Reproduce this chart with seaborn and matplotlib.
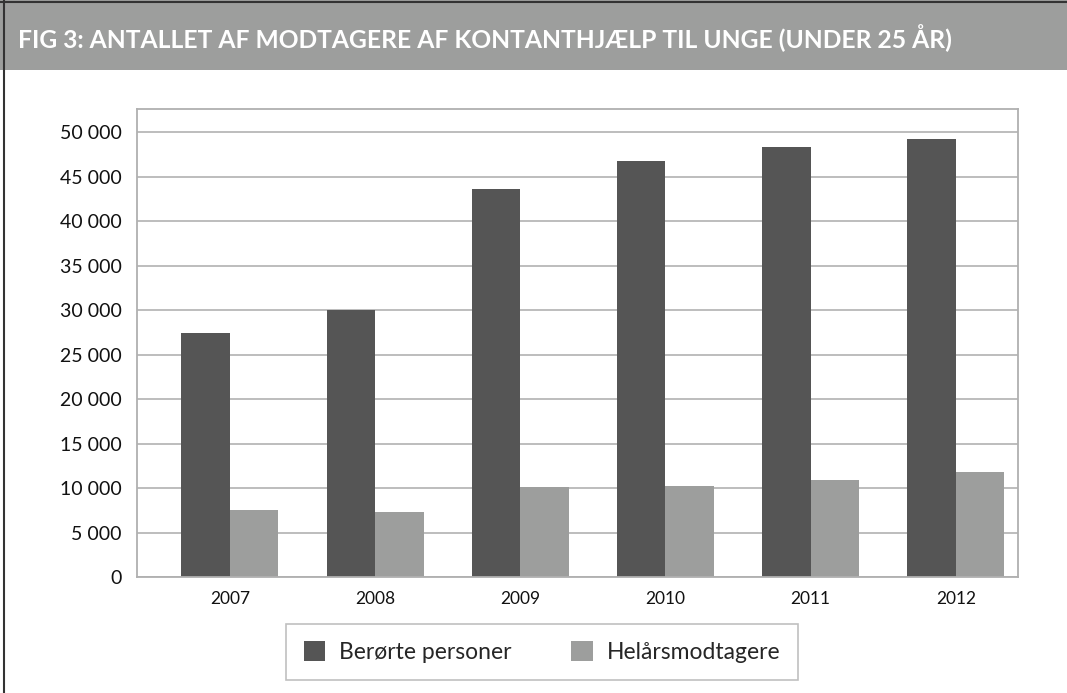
import matplotlib
matplotlib.use("Agg")
import matplotlib.pyplot as plt
import matplotlib.ticker as mticker
from matplotlib.patches import Rectangle
from matplotlib.lines import Line2D
import seaborn as sns
import pandas as pd

years = ["2007", "2008", "2009", "2010", "2011", "2012"]
berorte = [27450, 30000, 43600, 46750, 48300, 49200]
helaars = [7480, 7260, 10060, 10280, 10850, 11850]
series_names = ["Berørte personer", "Helårsmodtagere"]
title = "FIG 3: ANTALLET AF MODTAGERE AF KONTANTHJÆLP TIL UNGE (UNDER 25 ÅR)"

df = pd.DataFrame({
    "year": years * 2,
    "value": berorte + helaars,
    "serie": [series_names[0]] * len(years) + [series_names[1]] * len(years),
})

sns.set_theme(style="white")
plt.rcParams["font.family"] = ["Lato", "DejaVu Sans"]

W, H = 1067, 693
fig = plt.figure(figsize=(W / 100, H / 100), dpi=100)

# grå titelbjælke + mørk ramme
fig.patches.append(Rectangle((0, 1 - 70 / H), 1, 70 / H, transform=fig.transFigure,
                             facecolor="#9d9e9d", edgecolor="none", zorder=0))
fig.lines.append(Line2D([4 / W, 4 / W], [0, 1], transform=fig.transFigure, color="#333333", lw=1.5))
fig.lines.append(Line2D([0, 1], [1 - 2 / H, 1 - 2 / H], transform=fig.transFigure, color="#333333", lw=1.5))
fig.text(18 / W, 1 - 38 / H, title, color="white", fontsize=17.7, fontweight="bold",
         va="center", ha="left")

ax = fig.add_axes([137 / W, 1 - 577 / H, (1018 - 137) / W, (577 - 109) / H])
sns.barplot(data=df, x="year", y="value", hue="serie", palette=["#555555", "#9d9e9d"],
            width=0.668, saturation=1, linewidth=0, ax=ax, legend=True)

ax.set_xlim(-0.639, 5.428)
ax.set_ylim(0, 52600)
ax.set_yticks(range(0, 50001, 5000))
ax.yaxis.set_major_formatter(mticker.FuncFormatter(lambda v, p: f"{int(v):,}".replace(",", " ")))
ax.grid(axis="y", color="#b8b8b8", lw=1.3)
ax.set_axisbelow(True)
for s in ax.spines.values():
    s.set_visible(True)
    s.set_color("#b0b0b0")
    s.set_linewidth(1.3)
ax.tick_params(axis="y", labelsize=14, length=0, pad=11, labelcolor="#111111")
ax.tick_params(axis="x", labelsize=12.5, length=0, pad=10, labelcolor="#111111")
ax.set_xlabel("")
ax.set_ylabel("")

handles, labels = ax.get_legend_handles_labels()
ax.get_legend().remove()
leg = fig.legend(handles, labels, loc="center", bbox_to_anchor=(542 / W, 1 - 652 / H),
                 ncol=2, fontsize=16.5, frameon=True, fancybox=False, edgecolor="#b0b0b0",
                 handlelength=0.95, handleheight=0.95, columnspacing=2.6, borderpad=0.75,
                 handletextpad=0.6, borderaxespad=0)
leg.get_frame().set_linewidth(1.2)

fig.savefig("out.png", dpi=100)
